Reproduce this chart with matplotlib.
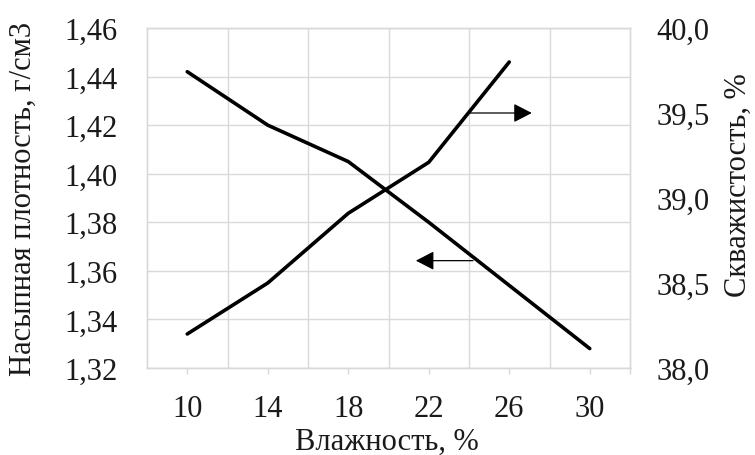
import matplotlib
matplotlib.use("Agg")
import matplotlib.pyplot as plt
from matplotlib.ticker import FuncFormatter, FixedLocator

plt.rcParams['font.family'] = ['Liberation Serif', 'DejaVu Serif']

categories = ["10", "14", "18", "22", "26", "30"]
density = [1.442, 1.420, 1.405, 1.380, 1.354, 1.328]        # left axis, g/cm3
porosity = [38.20, 38.50, 38.91, 39.21, 39.80]             # right axis, %

xlabel = "Влажность, %"
ylabel_left = "Насыпная плотность, г/см3"
ylabel_right = "Скважистость, %"

# arrows (category-index x, value y): (tail, tip)
arrow_left = ((3.55, 1.3642), (2.84, 1.3642))
arrow_right = ((3.51, 39.50), (4.28, 39.50))

W, H = 755, 456
L, R, T, B = 147, 630, 29, 369
fs = 22
txt_c = '#1a1a1a'

fig = plt.figure(figsize=(W/100, H/100), dpi=100)
ax = fig.add_axes([L/W, 1-B/H, (R-L)/W, (B-T)/H])
ax2 = ax.twinx()

grid_c = '#d9d9d9'
xs = list(range(len(categories)))

ax.plot(xs, density, color='black', lw=2.6, solid_capstyle='round', solid_joinstyle='round', zorder=3)
ax2.plot(xs[:len(porosity)], porosity, color='black', lw=2.6, solid_capstyle='round', solid_joinstyle='round', zorder=3)

ax.set_xlim(-0.5, len(categories) - 0.5)
ax.set_ylim(1.32, 1.46)
ax2.set_ylim(38.0, 40.0)

ax.set_yticks([1.32 + 0.02*i for i in range(8)])
ax2.set_yticks([38.0 + 0.5*i for i in range(5)])
ax.yaxis.set_major_formatter(FuncFormatter(lambda v, p: f"{v:.2f}".replace('.', ',')))
ax2.yaxis.set_major_formatter(FuncFormatter(lambda v, p: f"{v:.1f}".replace('.', ',')))

ax.set_xticks(xs + [len(categories) - 0.5])
ax.set_xticklabels(categories + [""])
ax.xaxis.set_minor_locator(FixedLocator([i + 0.5 for i in range(len(categories) - 1)]))
ax.grid(True, which='minor', axis='x', color=grid_c, lw=1)
ax.grid(True, which='major', axis='y', color=grid_c, lw=1)
ax.set_axisbelow(True)

ax.tick_params(axis='x', which='major', length=4.5, color=grid_c, width=1, labelsize=fs,
               pad=14, labelcolor=txt_c)
ax.tick_params(axis='x', which='minor', length=0)
ax.tick_params(axis='y', length=0, labelsize=fs, pad=21, labelcolor=txt_c)
ax2.tick_params(axis='y', length=0, labelsize=fs, pad=19, labelcolor=txt_c)

for a in (ax, ax2):
    for s in a.spines.values():
        s.set_color(grid_c)
        s.set_linewidth(1)

ax.set_xlabel(xlabel, fontsize=fs, color=txt_c)
ax.xaxis.label.set_va('baseline')
ax.xaxis.set_label_coords(0.497, (B - 450) / (B - T))

ax.set_ylabel(ylabel_left, fontsize=fs, color=txt_c)
ax.yaxis.label.set_va('center')
ax.yaxis.set_label_coords((23 - L) / (R - L), 0.5)

ax2.set_ylabel(ylabel_right, fontsize=fs, color=txt_c)
ax2.yaxis.label.set_va('center')
ax2.yaxis.set_label_coords((738 - L) / (R - L), (B - 185) / (B - T))

ap = dict(arrowstyle='-|>,head_length=0.56,head_width=0.29', lw=0.9, color='black',
          mutation_scale=20, shrinkA=0, shrinkB=0)
ax.annotate('', xy=arrow_left[1], xytext=arrow_left[0], arrowprops=ap, zorder=4)
ax2.annotate('', xy=arrow_right[1], xytext=arrow_right[0], arrowprops=ap, zorder=4)

fig.savefig('out.png', dpi=100)
